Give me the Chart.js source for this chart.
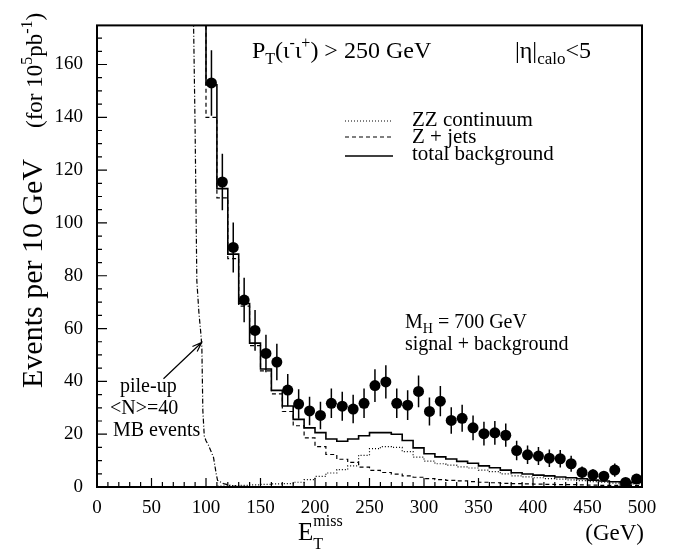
<!DOCTYPE html>
<html>
<head>
<meta charset="utf-8">
<style>
  html, body { margin: 0; padding: 0; background: #fff; }
  #wrap { width: 684px; height: 554px; }
</style>
<script src="https://cdn.jsdelivr.net/npm/chart.js@4.4.1/dist/chart.umd.min.js"></script>
</head>
<body>
<div id="wrap"><canvas id="chart" width="684" height="554"></canvas></div>
<script>
// Histogram bins: lower edges, 10 GeV wide
const binEdges = [100, 110, 120, 130, 140, 150, 160, 170, 180, 190,
                  200, 210, 220, 230, 240, 250, 260, 270, 280, 290,
                  300, 310, 320, 330, 340, 350, 360, 370, 380, 390,
                  400, 410, 420, 430, 440, 450, 460, 470, 480, 490];
const binEnd = 500;

// total background (solid)
const totalBkg = [152.3, 113, 88.2, 69.5, 54.5, 44.7, 36.6, 30.7, 25.6, 22.4,
                  20.6, 18.2, 17.3, 18.2, 19.4, 20.6, 20.6, 20.0, 17.6, 14.8,
                  12.6, 11.4, 10.6, 9.7, 9.0, 8.0, 7.3, 6.4, 5.4, 4.9,
                  4.5, 4.2, 3.8, 3.5, 3.1, 2.6, 2.3, 2.0, 1.9, 1.7];
// Z + jets (dashed)
const zJets = [140, 109.5, 86.5, 68.5, 53.5, 44, 35.3, 28.6, 23.2, 18.6,
               15.3, 12.3, 10.5, 9.3, 7.5, 6.3, 5.5, 4.9, 4.2, 3.7,
               3.2, 2.8, 2.5, 2.3, 2.0, 1.8, 1.6, 1.4, 1.3, 1.2,
               1.1, 1.0, 0.9, 0.9, 0.8, 0.7, 0.6, 0.6, 0.5, 0.5];
// ZZ continuum (dotted)
const zzCont = [0.1, 0.3, 0.5, 0.6, 0.8, 1.0, 1.2, 1.3, 1.8, 2.8,
                4.0, 5.3, 6.6, 8.0, 12.0, 14.5, 15.3, 15.0, 13.4, 11.3,
                9.8, 8.8, 8.3, 7.6, 7.2, 6.4, 5.8, 5.0, 4.2, 3.8,
                3.5, 3.2, 3.0, 2.7, 2.4, 2.0, 1.8, 1.5, 1.4, 1.2];

// signal + background points
const dataX = [105, 115, 125, 135, 145, 155, 165, 175, 185, 195,
               205, 215, 225, 235, 245, 255, 265, 275, 285, 295,
               305, 315, 325, 335, 345, 355, 365, 375, 385, 395,
               405, 415, 425, 435, 445, 455, 465, 475, 485, 495];
const dataY = [153, 115.5, 90.7, 70.8, 59.3, 50.6, 47.3, 36.7, 31.4, 28.8,
               27.1, 31.7, 30.6, 29.5, 31.7, 38.4, 39.8, 31.7, 31.0, 36.2,
               28.6, 32.5, 25.2, 26.0, 22.4, 20.2, 20.5, 19.6, 13.8, 12.2,
               11.7, 10.9, 10.7, 8.8, 5.5, 4.6, 4.1, 6.4, 1.7, 3.0];
const dataErr = [12.4, 10.7, 9.5, 8.4, 7.7, 7.1, 6.9, 6.1, 5.6, 5.4,
                 5.2, 5.6, 5.5, 5.4, 5.6, 6.2, 6.3, 5.6, 5.6, 6.0,
                 5.3, 5.7, 5.0, 5.1, 4.7, 4.5, 4.5, 4.4, 3.7, 3.5,
                 3.4, 3.3, 3.3, 3.0, 2.3, 2.1, 2.0, 2.5, 1.3, 1.7];

// pile-up (dash-dot)
const pileupX = [88, 88.5, 90, 90.6, 91.6, 93.5, 95.3, 96.2, 97.1, 98.4, 100, 102.3, 106.9, 109.4, 110.6, 116, 125, 150];
const pileupY = [200, 178, 136, 114, 78, 66, 58, 53, 29, 19.4, 17.5, 15.8, 11.2, 4.9, 2.5, 1.3, 0.3, 0.1];

const xTicks = [0, 50, 100, 150, 200, 250, 300, 350, 400, 450, 500];
const yTicks = [0, 20, 40, 60, 80, 100, 120, 140, 160];

const FONT = '"Liberation Serif", "Times New Roman", serif';

// build stepped histogram outline, optionally entering from off-scale top
function histPoints(values, fromTop) {
    const pts = [];
    if (fromTop) pts.push({ x: binEdges[0], y: 400 });
    binEdges.forEach((e, i) => pts.push({ x: e, y: values[i] }));
    pts.push({ x: binEnd, y: values[values.length - 1] });
    return pts;
}

// Helper: draw text with sub/superscript runs
function rich(ctx, x, y, parts) {
    let cx = x;
    for (const [t, size, dy] of parts) {
        ctx.font = size + 'px ' + FONT;
        ctx.fillText(t, cx, y + (dy || 0));
        cx += ctx.measureText(t).width;
    }
    return cx;
}

const decorPlugin = {
    id: 'decor',
    afterDatasetsDraw(chart) {
        const { ctx, chartArea: a, scales: { x, y } } = chart;
        ctx.save();
        ctx.strokeStyle = '#000';
        ctx.fillStyle = '#000';

        // error bars
        ctx.lineWidth = 1.5;
        ctx.beginPath();
        dataX.forEach((v, i) => {
            const px = x.getPixelForValue(v);
            ctx.moveTo(px, y.getPixelForValue(dataY[i] - dataErr[i]));
            ctx.lineTo(px, y.getPixelForValue(dataY[i] + dataErr[i]));
        });
        ctx.stroke();

        // frame
        ctx.lineWidth = 2;
        ctx.strokeRect(a.left, a.top, a.right - a.left, a.bottom - a.top);

        // inward ticks
        ctx.lineWidth = 1.2;
        ctx.beginPath();
        for (let v = 0; v <= 500; v += 10) {
            const px = x.getPixelForValue(v);
            const len = v % 50 === 0 ? 9 : 5;
            ctx.moveTo(px, a.bottom);
            ctx.lineTo(px, a.bottom - len);
        }
        for (let v = 0; v <= 170; v += 5) {
            const py = y.getPixelForValue(v);
            const len = v % 20 === 0 ? 10 : 5;
            ctx.moveTo(a.left, py);
            ctx.lineTo(a.left + len, py);
        }
        ctx.stroke();

        ctx.textBaseline = 'alphabetic';
        ctx.textAlign = 'left';

        // cut labels
        rich(ctx, 252, 58, [['P', 24], ['T', 16, 6], ['(ι', 24], ['-', 16, -10], ['ι', 24], ['+', 16, -10], [') > 250 GeV', 24]]);
        rich(ctx, 515, 58, [['|η|', 24], ['calo', 17, 6], ['<5', 24]]);

        // legend
        const legend = [
            { text: 'ZZ continuum', dash: [1, 2], width: 1.2, ly: 121, ty: 126 },
            { text: 'Z + jets', dash: [4, 3], width: 1.2, ly: 137, ty: 143 },
            { text: 'total background', dash: [], width: 1.6, ly: 156, ty: 160 }
        ];
        legend.forEach(l => {
            ctx.setLineDash(l.dash);
            ctx.lineWidth = l.width;
            ctx.beginPath();
            ctx.moveTo(345, l.ly);
            ctx.lineTo(393, l.ly);
            ctx.stroke();
            ctx.setLineDash([]);
            rich(ctx, 412, l.ty, [[l.text, 21]]);
        });

        // signal label
        rich(ctx, 405, 328, [['M', 20], ['H', 14, 5], [' = 700 GeV', 20]]);
        rich(ctx, 405, 350, [['signal + background', 20]]);

        // pile-up label and arrow
        rich(ctx, 120, 392, [['pile-up', 20]]);
        rich(ctx, 110, 414, [['<N>=40', 20]]);
        rich(ctx, 113, 436, [['MB events', 20]]);
        const x0 = x.getPixelForValue(61), y0 = y.getPixelForValue(41);
        const x1 = x.getPixelForValue(96), y1 = y.getPixelForValue(54.7);
        const ang = Math.atan2(y1 - y0, x1 - x0);
        ctx.lineWidth = 1.2;
        ctx.beginPath();
        ctx.moveTo(x0, y0);
        ctx.lineTo(x1, y1);
        ctx.moveTo(x1 - 10 * Math.cos(ang - 0.35), y1 - 10 * Math.sin(ang - 0.35));
        ctx.lineTo(x1, y1);
        ctx.lineTo(x1 - 10 * Math.cos(ang + 0.35), y1 - 10 * Math.sin(ang + 0.35));
        ctx.stroke();

        // x axis title
        ctx.font = '25px ' + FONT;
        const ex = 298;
        ctx.fillText('E', ex, 540);
        const ew = ctx.measureText('E').width;
        rich(ctx, ex + ew, 549, [['T', 16]]);
        rich(ctx, ex + ew, 526, [['miss', 16]]);
        ctx.textAlign = 'right';
        ctx.font = '23px ' + FONT;
        ctx.fillText('(GeV)', 644, 540);
        ctx.textAlign = 'left';

        // y axis title
        ctx.save();
        ctx.translate(42, 388);
        ctx.rotate(-Math.PI / 2);
        rich(ctx, 0, 0, [['Events per 10 GeV', 30]]);
        ctx.restore();
        ctx.save();
        ctx.translate(42, 128);
        ctx.rotate(-Math.PI / 2);
        rich(ctx, 0, 0, [['(for 10', 23], ['5', 16, -10], ['pb', 23], ['-1', 16, -10], [')', 23]]);
        ctx.restore();

        ctx.restore();
    }
};

new Chart(document.getElementById('chart'), {
    type: 'line',
    data: {
        datasets: [
            {
                label: 'total background',
                data: histPoints(totalBkg, true),
                stepped: true,
                borderColor: '#000',
                borderWidth: 1.6,
                pointRadius: 0,
                fill: false
            },
            {
                label: 'Z + jets',
                data: histPoints(zJets, true),
                stepped: true,
                borderColor: '#000',
                borderWidth: 1.2,
                borderDash: [4, 3],
                pointRadius: 0,
                fill: false
            },
            {
                label: 'ZZ continuum',
                data: histPoints(zzCont, false),
                stepped: true,
                borderColor: '#000',
                borderWidth: 1.2,
                borderDash: [1, 2],
                pointRadius: 0,
                fill: false
            },
            {
                label: 'pile-up',
                data: pileupX.map((v, i) => ({ x: v, y: pileupY[i] })),
                borderColor: '#000',
                borderWidth: 1.2,
                borderDash: [5, 2, 1, 2],
                pointRadius: 0,
                tension: 0,
                fill: false
            },
            {
                type: 'scatter',
                label: 'signal + background',
                data: dataX.map((v, i) => ({ x: v, y: dataY[i] })),
                showLine: false,
                pointRadius: 5.5,
                pointBackgroundColor: '#000',
                pointBorderWidth: 0,
                pointStyle: 'circle'
            }
        ]
    },
    options: {
        responsive: false,
        devicePixelRatio: 1,
        animation: false,
        layout: { padding: { top: 3, right: 42, left: 0, bottom: 0 } },
        plugins: {
            legend: { display: false },
            tooltip: { enabled: false }
        },
        scales: {
            x: {
                type: 'linear',
                min: 0,
                max: 500,
                grid: { display: false, drawTicks: false },
                border: { display: false },
                afterBuildTicks: s => { s.ticks = xTicks.map(v => ({ value: v })); },
                afterFit: s => { s.height = 67; },
                ticks: {
                    autoSkip: false,
                    maxRotation: 0,
                    padding: 10,
                    color: '#000',
                    font: { family: FONT, size: 19 }
                }
            },
            y: {
                type: 'linear',
                min: 0,
                max: 174.8,
                grid: { display: false, drawTicks: false },
                border: { display: false },
                afterBuildTicks: s => { s.ticks = yTicks.map(v => ({ value: v })); },
                afterFit: s => { s.width = 97; },
                ticks: {
                    autoSkip: false,
                    padding: 14,
                    color: '#000',
                    font: { family: FONT, size: 19 }
                }
            }
        }
    },
    plugins: [decorPlugin]
});
</script>
</body>
</html>
